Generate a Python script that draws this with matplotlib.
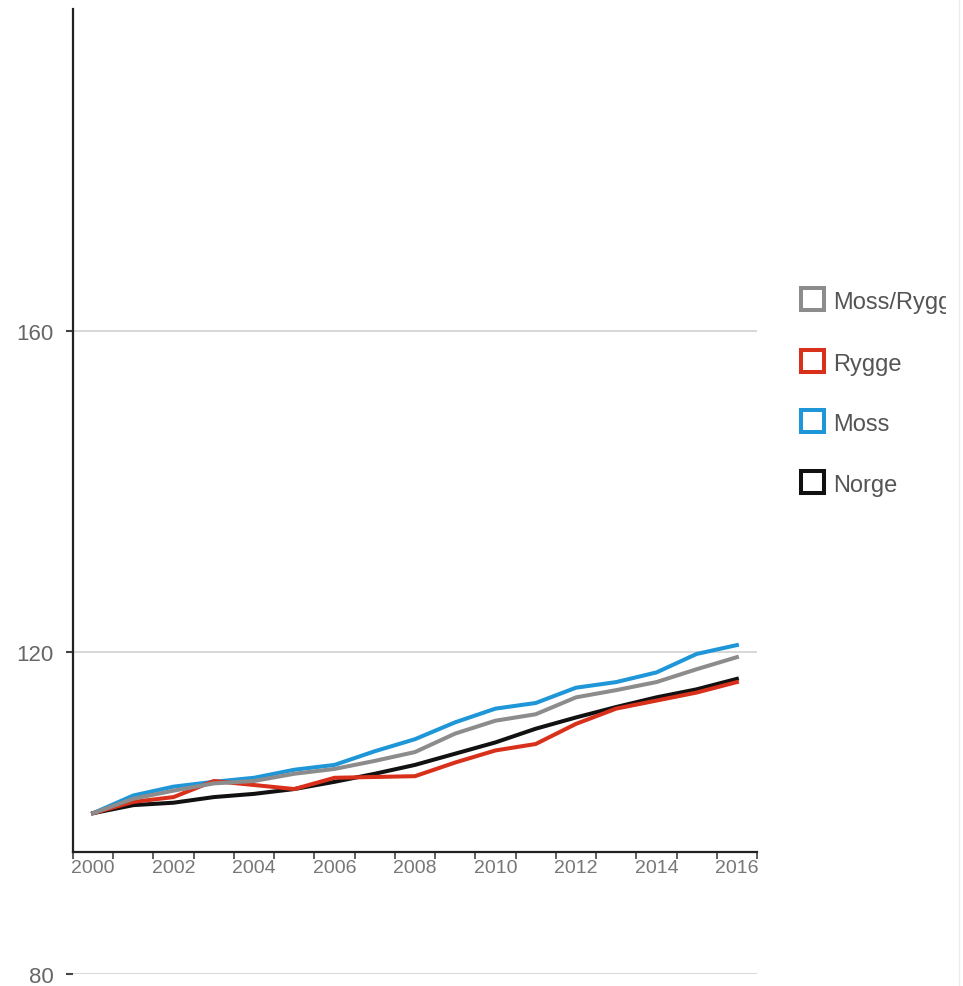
import numpy as np
import matplotlib.pyplot as plt
from matplotlib.patches import Rectangle
from matplotlib.lines import Line2D
from matplotlib.transforms import Bbox, TransformedBbox

plt.rcParams['font.family'] = ['Liberation Sans', 'DejaVu Sans']

years = list(range(2000, 2017))
moss_rygge = [100, 101.8, 102.8, 103.7, 104.0, 104.9, 105.5, 106.5, 107.6, 109.9, 111.5, 112.3, 114.4, 115.3, 116.3, 117.9, 119.4]
rygge = [100, 101.4, 102.0, 104.0, 103.5, 103.0, 104.4, 104.5, 104.6, 106.3, 107.8, 108.6, 111.1, 113.0, 114.0, 115.0, 116.3]
moss = [100, 102.2, 103.3, 103.9, 104.4, 105.4, 106.0, 107.7, 109.2, 111.3, 113.0, 113.7, 115.6, 116.3, 117.5, 119.8, 120.9]
norge = [100, 101.0, 101.3, 102.0, 102.4, 103.0, 103.9, 104.9, 106.0, 107.4, 108.8, 110.5, 111.9, 113.2, 114.4, 115.4, 116.7]

series_names = ['Moss/Rygge', 'Rygge', 'Moss', 'Norge']
series_vals = [moss_rygge, rygge, moss, norge]
colors = ['#8c8c8c', '#d9301c', '#1e96d8', '#111111']
y_ticks = [80, 120, 160]
x_base = 95.2

fig = plt.figure(figsize=(9.63, 9.87), dpi=100)
ax = fig.add_axes([73/963, 12/987, (757-73)/963, (975-10)/987])

x = np.arange(len(years))
# draw order: Moss, Norge, Rygge, Moss/Rygge on top
for idx in [2, 3, 1, 0]:
    ax.plot(x, series_vals[idx], color=colors[idx], lw=2.9, solid_joinstyle='round', zorder=3)

ax.set_xlim(-0.5, len(years) - 0.5)
ax.set_ylim(80, 200)

for s in ['top', 'right']:
    ax.spines[s].set_visible(False)
ax.spines['bottom'].set_position(('data', x_base))
ax.spines['left'].set_bounds(x_base, 200)
ax.spines['left'].set_linewidth(1.6)
ax.spines['bottom'].set_linewidth(1.6)
ax.spines['left'].set_color('#222222')
ax.spines['bottom'].set_color('#222222')

ax.set_yticks(y_ticks)
ax.set_yticklabels([str(v) for v in y_ticks])
ax.tick_params(axis='y', length=5, width=1.5, color='#444444', labelsize=16, labelcolor='#666666', pad=9)
ax.yaxis.grid(True, color='#d4d4d4', lw=1.3)
ax.set_axisbelow(True)

# ticks between categories, labels every other year
ax.set_xticks(np.arange(-0.5, len(years), 1.0))
ax.set_xticklabels([])
ax.set_xticks(x[::2], minor=True)
ax.set_xticklabels([str(y) for y in years[::2]], minor=True)
ax.tick_params(axis='x', which='major', length=5, width=1.2, color='#444444')
ax.tick_params(axis='x', which='minor', length=0, labelsize=14, labelcolor='#777777', pad=5)

# legend, text clipped at the panel edge
clip = TransformedBbox(Bbox([[0, 0], [946/963, 1]]), fig.transFigure)
leg_y = [300, 362, 422, 483]
for name, c, yy in zip(series_names, colors, leg_y):
    fig.add_artist(Rectangle((801/963, 1 - (yy + 11)/987), 23/963, 22/987,
                             transform=fig.transFigure, facecolor='white', edgecolor=c, lw=2.9))
    t = fig.text(833/963, 1 - (yy + 3)/987, name, fontsize=17, color='#555555', va='center', ha='left')
    t.set_clip_box(clip)
    t.set_clip_on(True)

fig.add_artist(Line2D([959/963, 959/963], [0, 1], transform=fig.transFigure, color='#ececec', lw=1))

fig.savefig('out.png', dpi=100)
